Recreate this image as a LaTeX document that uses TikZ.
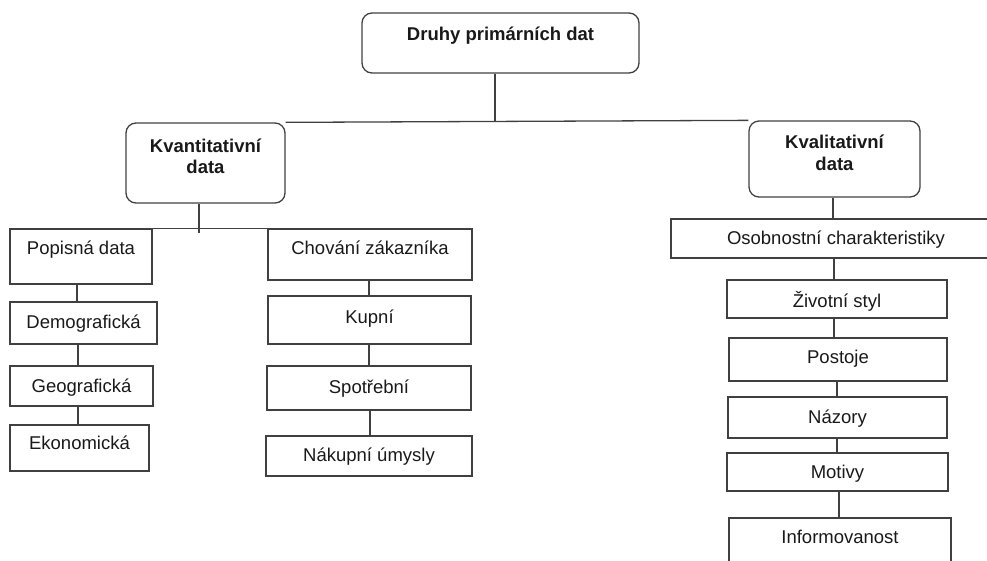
\documentclass[tikz,border=0pt]{standalone}
\usepackage{fontspec}
\setmainfont{Liberation Sans}
\begin{document}
\begin{tikzpicture}[
  x=1pt, y=-1pt,
  line/.style={draw=black!75, line width=1.3pt},
  box/.style={line, rectangle, inner sep=0pt, align=center,
    font=\fontsize{18.5}{21.5}\selectfont, text=black!90},
  head/.style={box, rounded corners=10pt, font=\fontsize{18.5}{21.5}\selectfont\bfseries}]
  \clip (0,0) rectangle (987,560);
  % Top level
  \node[head, minimum width=277, text height=27.5, text depth=32.5] (root) at (500.5,43) {Druhy primárních dat};
  \node[head, minimum width=159, text height=50.5, text depth=29.5] (kvant) at (205.5,163) {Kvantitativní\\data};
  \node[head, minimum width=171, text height=49, text depth=27] (kval) at (834.5,159) {Kvalitativní\\data};
  \draw[line] (kvant.north east) -- (kval.north west);
  \draw[line] (495,0 |- root.south) -- (495,0 |- kvant.north);
  % Left branch: Kvantitativni data
  \node[box, minimum width=142, text height=25.5, text depth=29.5] (pop) at (81,256.5) {Popisná data};
  \node[box, minimum width=147, text height=26.5, text depth=15.5] (demo) at (83.5,323) {Demografická};
  \node[box, minimum width=143, text height=26.5, text depth=13.5] (geo) at (81.5,386) {Geografická};
  \node[box, minimum width=139, text height=24.5, text depth=21.5] (eko) at (79.5,448) {Ekonomická};
  \node[box, minimum width=204, text height=25.5, text depth=25.5] (chov) at (370,254.5) {Chování zákazníka};
  \node[box, minimum width=203, text height=27.5, text depth=20.5] (kup) at (369.5,320) {Kupní};
  \node[box, minimum width=204, text height=27.5, text depth=16.5] (spot) at (369,388) {Spotřební};
  \node[box, minimum width=206, text height=25.5, text depth=14.5] (nak) at (369,456) {Nákupní úmysly};
  \draw[line] (pop.north east) -- (chov.north west);
  \draw[line] (199,0 |- kvant.south) -- (199,233);
  \draw[line] (77,0 |- pop.south) -- (77,0 |- demo.north);
  \draw[line] (78,0 |- demo.south) -- (78,0 |- geo.north);
  \draw[line] (78,0 |- geo.south) -- (78,0 |- eko.north);
  \draw[line] (369,0 |- chov.south) -- (369,0 |- kup.north);
  \draw[line] (369,0 |- kup.south) -- (369,0 |- spot.north);
  \draw[line] (370,0 |- spot.south) -- (370,0 |- nak.north);
  % Right branch: Kvalitativni data
  \node[box, minimum width=330, text height=25.5, text depth=13.5] (osob) at (836,238.5) {Osobnostní charakteristiky};
  \node[box, minimum width=220, text height=27.5, text depth=10.5] (ziv) at (837,299) {Životní styl};
  \node[box, minimum width=218, text height=25.5, text depth=17.5] (post) at (838,359.5) {Postoje};
  \node[box, minimum width=219, text height=26.5, text depth=14.5] (naz) at (837.5,417.5) {Názory};
  \node[box, minimum width=221, text height=25.5, text depth=12.5] (mot) at (837.5,472) {Motivy};
  \node[box, minimum width=222, text height=25.5, text depth=36.5] (inf) at (840,549) {Informovanost};
  \draw[line] (833,0 |- kval.south) -- (833,0 |- osob.north);
  \draw[line] (834,0 |- osob.south) -- (834,0 |- ziv.north);
  \draw[line] (834,0 |- ziv.south) -- (834,0 |- post.north);
  \draw[line] (837,0 |- post.south) -- (837,0 |- naz.north);
  \draw[line] (837,0 |- naz.south) -- (837,0 |- mot.north);
  \draw[line] (839,0 |- mot.south) -- (839,0 |- inf.north);
\end{tikzpicture}
\end{document}
